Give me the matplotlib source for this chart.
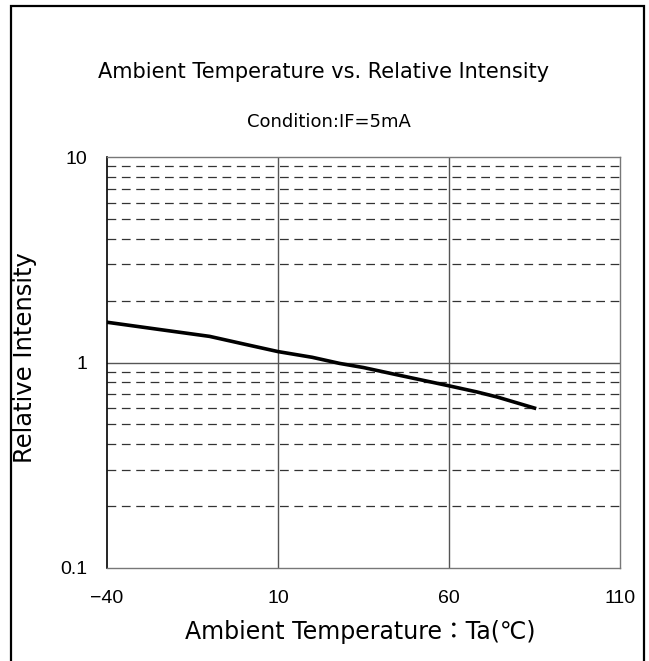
import matplotlib.pyplot as plt
from matplotlib.patches import Rectangle

plt.rcParams['font.family'] = ['DejaVu Sans', 'Noto Sans CJK JP']

# ambient temperature [degC] vs relative luminous intensity (IF=5mA)
temp = [-40, -25, -10, 0, 10, 20, 28, 35, 45, 60, 68, 74, 85]
intensity = [1.57, 1.45, 1.34, 1.23, 1.13, 1.06, 0.99, 0.945, 0.87, 0.77, 0.72, 0.68, 0.60]

xticks = [-40, 10, 60, 110]
yticks = [0.1, 1, 10]
ytick_labels = ['0.1', '1', '10']
minor_levels = [0.2, 0.3, 0.4, 0.5, 0.6, 0.7, 0.8, 0.9,
                2, 3, 4, 5, 6, 7, 8, 9]

W, H = 649, 661
fig = plt.figure(figsize=(W / 100, H / 100), dpi=100)
ax = fig.add_axes([107 / W, 1 - 568 / H, 513 / W, 411 / H])

ax.set_yscale('log')
ax.set_xlim(-40, 110)
ax.set_ylim(0.1, 10)

# grid: solid at decades / major temps, dashed at minor levels
for t in [10, 60]:
    ax.axvline(t, color='#555555', lw=1.0, zorder=1)
ax.axhline(1, color='#555555', lw=1.0, zorder=1)
for lv in minor_levels:
    ax.axhline(lv, color='#333333', lw=0.9, dashes=(7, 4.5), zorder=1)

ax.plot(temp, intensity, color='black', lw=2.6, zorder=3)

tick_font = ['Liberation Sans']
ax.set_xticks(xticks)
ax.set_xticklabels([f'{t}' if t >= 0 else f'\u2212{-t}' for t in xticks],
                   fontsize=14, family=tick_font)
ax.set_yticks(yticks)
ax.set_yticklabels(ytick_labels, fontsize=14, family=tick_font)
ax.minorticks_off()
ax.tick_params(axis='y', length=0, pad=14)
ax.tick_params(axis='x', length=0, pad=16)

for side in ['top', 'right', 'bottom']:
    ax.spines[side].set_color('#777777')
    ax.spines[side].set_linewidth(1.0)
ax.spines['left'].set_color('black')
ax.spines['left'].set_linewidth(1.2)

fig.text(360 / W, 1 - 632 / H, 'Ambient Temperature\uff1aTa(\u2103)',
         ha='center', va='center', fontsize=17)
fig.text(25 / W, 1 - 358 / H, 'Relative Intensity', rotation=90,
         ha='center', va='center', fontsize=17.5)

fig.text(324 / W, 1 - 72 / H, 'Ambient Temperature vs. Relative Intensity',
         ha='center', va='center', fontsize=15)
fig.text(329 / W, 1 - 122 / H, 'Condition:IF=5mA',
         ha='center', va='center', fontsize=13)

# outer frame around the whole sheet
fig.patches.append(Rectangle((11 / W, -0.05), (644 - 11) / W, 1.05 - 6 / H,
                             transform=fig.transFigure, fill=False,
                             ec='black', lw=1.6))

fig.savefig('out.png', dpi=100)
